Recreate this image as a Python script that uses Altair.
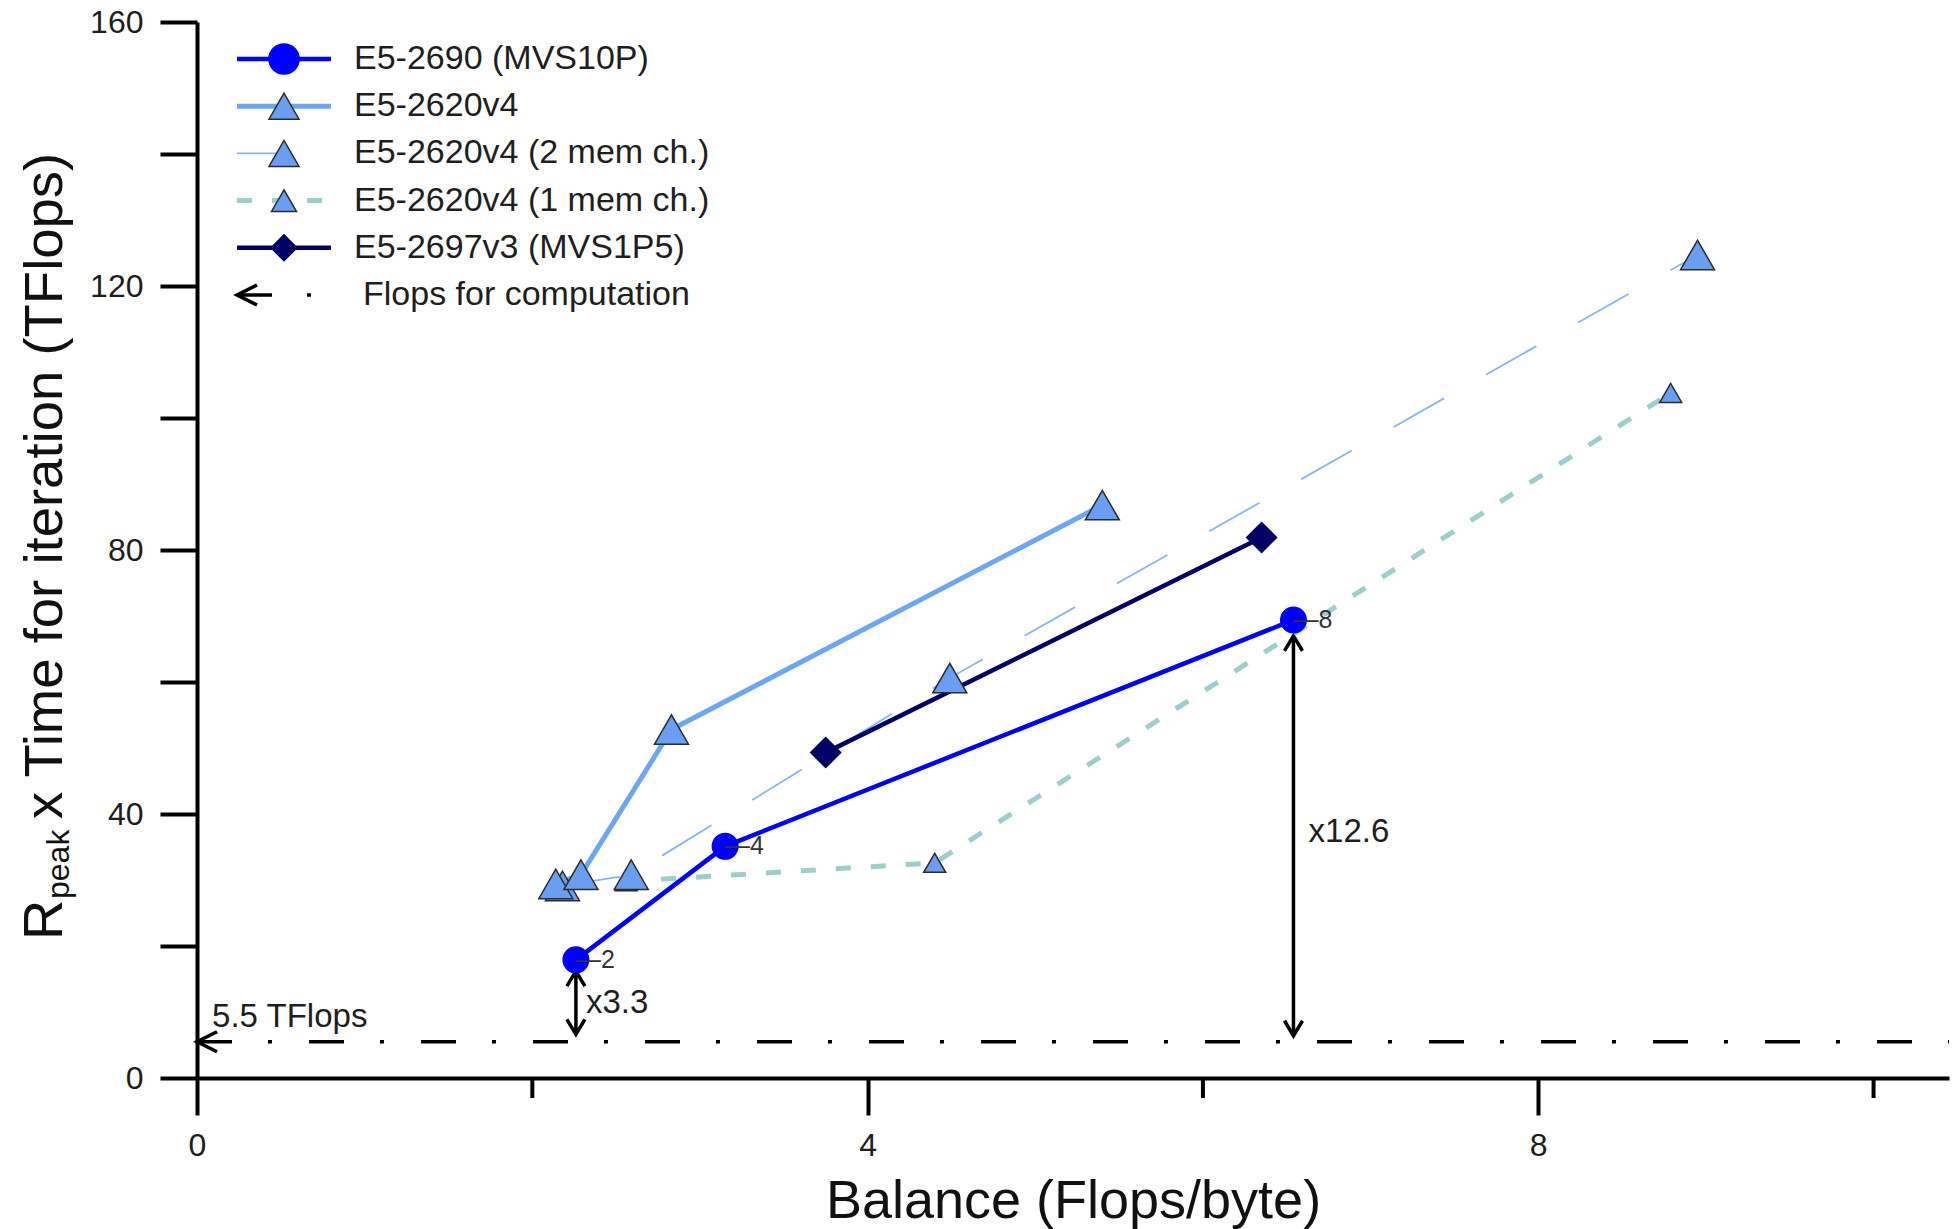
import altair as alt
import pandas as pd

# ---------------- data ----------------
mvs10p_x = [2.26, 3.15, 6.54]
mvs10p_y = [17.9, 35.1, 69.4]
mvs10p_lbl = ["2", "4", "8"]

v4_x = [2.14, 2.29, 2.83, 5.40]
v4_y = [29.4, 30.8, 52.8, 86.8]

v4m2_x = [2.18, 2.59, 4.49, 8.95]
v4m2_y = [29.1, 30.8, 60.6, 124.7]

v4m1_x = [2.56, 4.40, 8.79]
v4m1_y = [29.8, 32.6, 103.8]

v3_x = [3.75, 6.35]
v3_y = [49.3, 81.9]

flops_level = 5.5
flops_text = "5.5 TFlops"
flops_text_x = 0.09
flops_text_y = 7.7

arrow_x = [2.26, 6.54]
arrow_lo = [6.6, 6.4]
arrow_hi = [16.2, 67.0]
arrow_txt = ["x3.3", "x12.6"]
arrow_txt_x = [2.32, 6.63]
arrow_txt_y = [9.9, 35.7]

x_ticks_major = [0, 4, 8]
x_ticks_minor = [2, 6, 10]
y_ticks = [0, 20, 40, 60, 80, 100, 120, 140, 160]

legend_labels = [
    "E5-2690 (MVS10P)",
    "E5-2620v4",
    "E5-2620v4 (2 mem ch.)",
    "E5-2620v4 (1 mem ch.)",
    "E5-2697v3 (MVS1P5)",
    "Flops for computation",
]

# ---------------- styles ----------------
BLUE = "#0000FF"
LB = "#6CA6F5"
LBM = "#6A9EF2"
MSTROKE = "#2b2b2b"
THIN = "#86B4F7"
TEAL = "#9CCFCB"
NAVY = "#000066"
TXT = "#1e1e1e"
SANS = "Liberation Sans, Arial, Helvetica, sans-serif"
TITLE_FS = 54

W, H = 1752, 1056
XMAX = 10.45

xs = alt.Scale(domain=[0, XMAX], nice=False, zero=False)
ys = alt.Scale(domain=[0, 160], nice=False, zero=False)

xaxis = alt.Axis(values=x_ticks_major, tickSize=37, tickWidth=4, domainWidth=4,
                 domainColor="black", tickColor="black", grid=False,
                 labelFont=SANS, labelFontSize=32, labelColor=TXT, labelPadding=15,
                 labelFlush=False, labelOverlap=False,
                 title="Balance (Flops/byte)", titleFont=SANS, titleFontSize=TITLE_FS,
                 titleFontWeight="normal", titleColor="#111", titleY=139,
                 titleBaseline="alphabetic")
yaxis = alt.Axis(values=y_ticks, labelExpr="datum.value % 40 === 0 ? datum.label : ''",
                 tickSize=37, tickWidth=4, domainWidth=4, domainColor="black",
                 tickColor="black", grid=False, labelFont=SANS, labelFontSize=32,
                 labelColor=TXT, labelPadding=17, labelFlush=False, title=None)


def X(f):
    return alt.X(f, type="quantitative", scale=xs, axis=xaxis)


def Y(f):
    return alt.Y(f, type="quantitative", scale=ys, axis=yaxis)


def df(xv, yv, **extra):
    d = {"x": xv, "y": yv}
    d.update(extra)
    return pd.DataFrame(d)


layers = []

# 5.5 TFlops dash-dot line with arrow at x=0
lvl = pd.DataFrame({"x": [0.0], "x2": [XMAX], "y": [flops_level]})
layers.append(alt.Chart(lvl).mark_rule(color="black", strokeWidth=3.5,
                                       strokeDash=[35, 36, 4, 37]).encode(
    x=X("x"), x2="x2:Q", y=Y("y")))
layers.append(alt.Chart(lvl).mark_point(shape="M1,-0.5L0,0L1,0.5", filled=False,
                                        stroke="black", strokeWidth=3.5, size=1600,
                                        opacity=1).encode(x=X("x"), y=Y("y")))
layers.append(alt.Chart(pd.DataFrame({"x": [flops_text_x], "y": [flops_text_y],
                                      "t": [flops_text]})).mark_text(
    align="left", baseline="alphabetic", font=SANS, fontSize=33, color=TXT).encode(
    x=X("x"), y=Y("y"), text="t:N"))

# double arrows
arr = pd.DataFrame({"x": arrow_x, "lo": arrow_lo, "hi": arrow_hi})
layers.append(alt.Chart(arr).mark_rule(color="black", strokeWidth=3.5).encode(
    x=X("x"), y=Y("lo"), y2="hi:Q"))
layers.append(alt.Chart(arr).mark_point(shape="M-0.6,1L0,0L0.6,1", filled=False,
                                        stroke="black", strokeWidth=3.5, size=900,
                                        opacity=1).encode(x=X("x"), y=Y("hi")))
layers.append(alt.Chart(arr).mark_point(shape="M-0.6,-1L0,0L0.6,-1", filled=False,
                                        stroke="black", strokeWidth=3.5, size=900,
                                        opacity=1).encode(x=X("x"), y=Y("lo")))
layers.append(alt.Chart(df(arrow_txt_x, arrow_txt_y, t=arrow_txt)).mark_text(
    align="left", baseline="alphabetic", font=SANS, fontSize=33, color=TXT).encode(
    x=X("x"), y=Y("y"), text="t:N"))

# lines
layers.append(alt.Chart(df(v4m1_x, v4m1_y)).mark_line(
    color=TEAL, strokeWidth=5, strokeDash=[15, 20]).encode(x=X("x"), y=Y("y")))
layers.append(alt.Chart(df(v4m2_x, v4m2_y)).mark_line(
    color=THIN, strokeWidth=1.8, strokeDash=[58, 48]).encode(x=X("x"), y=Y("y")))
layers.append(alt.Chart(df(v4_x, v4_y)).mark_line(
    color=LB, strokeWidth=5).encode(x=X("x"), y=Y("y")))
layers.append(alt.Chart(df(v3_x, v3_y)).mark_line(
    color=NAVY, strokeWidth=4.5).encode(x=X("x"), y=Y("y")))
layers.append(alt.Chart(df(mvs10p_x, mvs10p_y)).mark_line(
    color=BLUE, strokeWidth=4.5).encode(x=X("x"), y=Y("y")))

# markers
layers.append(alt.Chart(df(v4m1_x, v4m1_y)).mark_point(
    shape="triangle-up", filled=True, fill=LBM, stroke=MSTROKE, strokeWidth=1.5,
    size=484, opacity=1).encode(x=X("x"), y=Y("y")))
layers.append(alt.Chart(df(v4m2_x, v4m2_y)).mark_point(
    shape="triangle-up", filled=True, fill=LBM, stroke=MSTROKE, strokeWidth=1.5,
    size=1156, opacity=1).encode(x=X("x"), y=Y("y")))
layers.append(alt.Chart(df(v4_x, v4_y)).mark_point(
    shape="triangle-up", filled=True, fill=LBM, stroke=MSTROKE, strokeWidth=1.5,
    size=1156, opacity=1).encode(x=X("x"), y=Y("y")))
layers.append(alt.Chart(df(v3_x, v3_y)).mark_point(
    shape="diamond", filled=True, fill=NAVY, strokeWidth=0, size=1024,
    opacity=1).encode(x=X("x"), y=Y("y")))
layers.append(alt.Chart(df(mvs10p_x, mvs10p_y)).mark_point(
    shape="circle", filled=True, fill=BLUE, strokeWidth=0, size=729,
    opacity=1).encode(x=X("x"), y=Y("y")))
layers.append(alt.Chart(df(mvs10p_x, mvs10p_y, t=["\u2014" + s for s in mvs10p_lbl])).mark_text(
    align="left", baseline="middle", font=SANS, fontSize=25, color="#333").encode(
    x=X("x"), y=Y("y"), text="t:N"))

# minor x ticks
layers.append(alt.Chart(pd.DataFrame({"x": x_ticks_minor})).mark_rule(
    color="black", strokeWidth=4).encode(x=X("x"), y=alt.value(H), y2=alt.value(H + 20)))

# ---------------- hand-made legend (layout in pixels) ----------------
LX0, LX1, LXM, LXT = 40, 134, 87, 157
LY0, LDY = 37, 47.2
legend_style = [
    dict(line=dict(color=BLUE, strokeWidth=4.5),
         mark=dict(shape="circle", fill=BLUE, strokeWidth=0, size=1000)),
    dict(line=dict(color=LB, strokeWidth=5),
         mark=dict(shape="triangle-up", fill=LBM, stroke=MSTROKE, strokeWidth=1.5, size=900)),
    dict(line=dict(color=THIN, strokeWidth=1.8, strokeDash=[40, 60]),
         mark=dict(shape="triangle-up", fill=LBM, stroke=MSTROKE, strokeWidth=1.5, size=900)),
    dict(line=dict(color=TEAL, strokeWidth=5, strokeDash=[15, 20]),
         mark=dict(shape="triangle-up", fill=LBM, stroke=MSTROKE, strokeWidth=1.5, size=625)),
    dict(line=dict(color=NAVY, strokeWidth=4.5),
         mark=dict(shape="diamond", fill=NAVY, strokeWidth=0, size=784)),
]
one = pd.DataFrame({"k": [0]})
for i, lab in enumerate(legend_labels):
    py = LY0 + i * LDY
    if i < len(legend_style):
        st = legend_style[i]
        layers.append(alt.Chart(one).mark_rule(**st["line"]).encode(
            x=alt.value(LX0), x2=alt.value(LX1), y=alt.value(py)))
        layers.append(alt.Chart(one).mark_point(filled=True, opacity=1, **st["mark"]).encode(
            x=alt.value(LXM), y=alt.value(py)))
        tx = LXT
    else:
        layers.append(alt.Chart(one).mark_rule(color="black", strokeWidth=3.5).encode(
            x=alt.value(LX0), x2=alt.value(LX0 + 35), y=alt.value(py)))
        layers.append(alt.Chart(one).mark_point(shape="M1,-0.5L0,0L1,0.5", filled=False,
                                                stroke="black", strokeWidth=3.5, size=1600,
                                                opacity=1).encode(
            x=alt.value(LX0), y=alt.value(py)))
        layers.append(alt.Chart(one).mark_rule(color="black", strokeWidth=3.5).encode(
            x=alt.value(LX0 + 70), x2=alt.value(LX0 + 74), y=alt.value(py)))
        tx = LXT + 9
    layers.append(alt.Chart(pd.DataFrame({"t": [lab]})).mark_text(
        align="left", baseline="middle", font=SANS, fontSize=34, color=TXT).encode(
        x=alt.value(tx), y=alt.value(py), text="t:N"))

# ---------------- y title with subscript ----------------
ytitle_parts = [("R", 56, -135, 918), ("peak", 32, -128, 877),
                ("x Time for iteration (TFlops)", 54.5, -135, 797)]
for txt, fs, px, py in ytitle_parts:
    layers.append(alt.Chart(pd.DataFrame({"t": [txt]})).mark_text(
        angle=270, align="left", baseline="alphabetic", font=SANS,
        fontSize=fs, color="#111").encode(x=alt.value(px), y=alt.value(py), text="t:N"))

chart = alt.layer(*layers).properties(
    width=W, height=H,
    padding={"left": 197, "top": 22, "right": 4, "bottom": 151},
    autosize=alt.AutoSizeParams(type="none"),
    background="white",
).configure_view(stroke=None)

chart.save("out.html", embed_options={"renderer": "svg", "actions": False})
